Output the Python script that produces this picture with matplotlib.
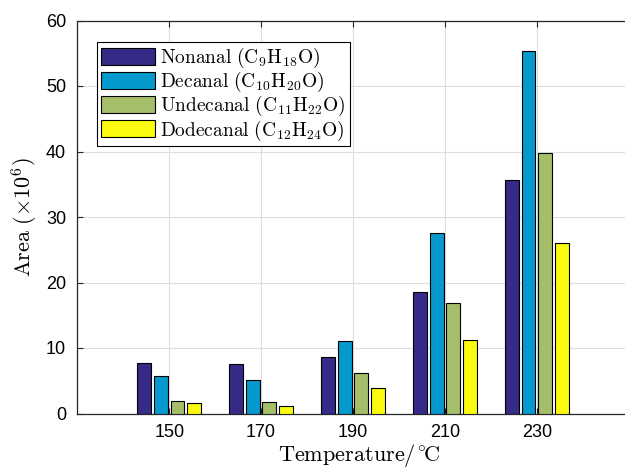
import numpy as np
import matplotlib
matplotlib.use("Agg")
import matplotlib.pyplot as plt

plt.rcParams["mathtext.fontset"] = "cm"
plt.rcParams["font.family"] = ["Liberation Sans", "DejaVu Sans"]

temps = [150, 170, 190, 210, 230]
nonanal = [7.7, 7.6, 8.6, 18.5, 35.6]
decanal = [5.8, 5.1, 11.1, 27.6, 55.4]
undecanal = [1.95, 1.7, 6.2, 16.9, 39.7]
dodecanal = [1.55, 1.1, 3.85, 11.2, 26.0]

series = [
    (nonanal, r"$\mathrm{Nonanal\ (C_9H_{18}O)}$", "#352a87"),
    (decanal, r"$\mathrm{Decanal\ (C_{10}H_{20}O)}$", "#0599ce"),
    (undecanal, r"$\mathrm{Undecanal\ (C_{11}H_{22}O)}$", "#a5be69"),
    (dodecanal, r"$\mathrm{Dodecanal\ (C_{12}H_{24}O)}$", "#f9fa0f"),
]

fig = plt.figure(figsize=(6.25, 4.70), dpi=100)
# right edge of the box sits just past the image border, as in the original
ax = fig.add_axes([77.3 / 625, 56.5 / 470, 563.9 / 625, 393 / 470])

x = np.array(temps, dtype=float)
step = 3.6
width = 3.0
for i, (vals, label, col) in enumerate(series):
    off = (i - 1.5) * step
    ax.bar(x + off, vals, width, color=col, edgecolor="black", linewidth=0.8,
           label=label, zorder=3)

ax.set_xlim(130, 130 + 563.9 / 91.9 * 20)
ax.set_ylim(0, 60)
ax.set_xticks(temps)
ax.set_yticks(np.arange(0, 61, 10))
ax.tick_params(direction="in", length=4, width=0.8, color="#262626",
               labelsize=13, top=True, right=True)
ax.tick_params(axis="x", pad=7.5)
ax.tick_params(axis="y", pad=8)
ax.grid(True, color="#dedede", linewidth=0.8)
ax.set_axisbelow(True)
for sp in ax.spines.values():
    sp.set_color("#262626")
    sp.set_linewidth(0.9)

ax.set_xlabel(r"$\mathrm{Temperature/^{\circ}\!C}$", fontsize=16, labelpad=1)
ax.set_ylabel(r"$\mathrm{Area\ (\times 10^6)}$", fontsize=16, labelpad=4)

leg = ax.legend(loc="upper left", bbox_to_anchor=(20 / 563.9, 0.945), borderaxespad=0,
                fontsize=14, fancybox=False, framealpha=1, edgecolor="black",
                handlelength=2.75, handleheight=0.95, labelspacing=0.0,
                handletextpad=0.3, borderpad=0.2)
leg.get_frame().set_linewidth(0.8)

fig.savefig("out.png", dpi=100)
